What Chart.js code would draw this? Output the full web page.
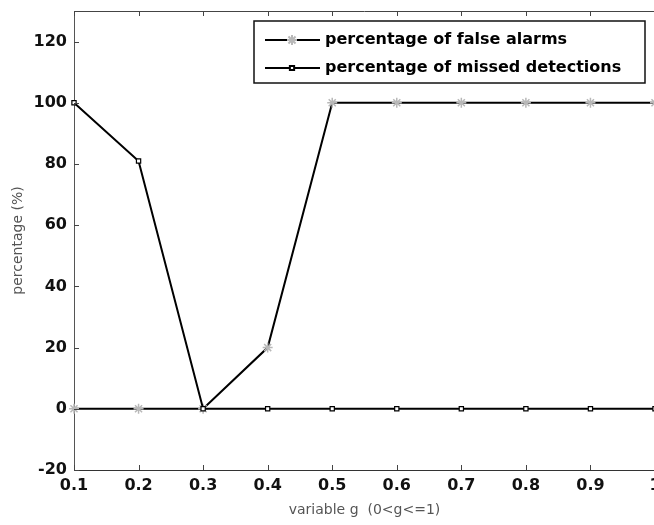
<!DOCTYPE html>
<html>
<head>
<meta charset="utf-8">
<script src="https://cdn.jsdelivr.net/npm/chart.js@4/dist/chart.umd.min.js"></script>
<style>
  html, body { margin: 0; padding: 0; background: #fff; overflow: hidden; }
  #wrap { width: 654px; height: 525px; overflow: hidden; }
</style>
</head>
<body>
<div id="wrap"><canvas id="c" width="700" height="525"></canvas></div>
<script>
// values
const gValues = [0.1, 0.2, 0.3, 0.4, 0.5, 0.6, 0.7, 0.8, 0.9, 1.0];
const falseAlarms = [0, 0, 0, 20, 100, 100, 100, 100, 100, 100];
const missedDetections = [100, 81, 0, 0, 0, 0, 0, 0, 0, 0];
const xTickLabels = ['0.1', '0.2', '0.3', '0.4', '0.5', '0.6', '0.7', '0.8', '0.9', '1'];
const yTicks = [-20, 0, 20, 40, 60, 80, 100, 120];
const seriesNames = ['percentage of false alarms', 'percentage of missed detections'];

const tickFont = { family: 'DejaVu Sans', size: 16, weight: 'bold' };
const titleFont = { family: 'DejaVu Sans', size: 14 };

// inward ticks, top border and the boxed legend, matlab style
const frame = {
  id: 'frame',
  afterDraw(chart) {
    const ctx = chart.ctx;
    const a = chart.chartArea;
    const xs = chart.scales.x, ys = chart.scales.y;
    ctx.save();
    ctx.strokeStyle = '#444';
    ctx.lineWidth = 1;
    ctx.beginPath();
    ctx.moveTo(a.left, a.top + 0.5);
    ctx.lineTo(a.right, a.top + 0.5);
    gValues.forEach(v => {
      const px = Math.round(xs.getPixelForValue(v)) + 0.5;
      ctx.moveTo(px, a.bottom); ctx.lineTo(px, a.bottom - 5);
      ctx.moveTo(px, a.top); ctx.lineTo(px, a.top + 5);
    });
    yTicks.forEach(v => {
      const py = Math.round(ys.getPixelForValue(v)) + 0.5;
      ctx.moveTo(a.left, py); ctx.lineTo(a.left + 5, py);
    });
    ctx.stroke();

    // legend
    const lw = 391, lh = 62;
    const lx = a.right - 10 - lw, ly = a.top + 10;
    ctx.fillStyle = '#fff';
    ctx.fillRect(lx, ly, lw, lh);
    ctx.strokeStyle = '#111';
    ctx.lineWidth = 1.5;
    ctx.strokeRect(lx, ly, lw, lh);
    const rows = [ly + 19, ly + 47];
    const ds = chart.data.datasets;
    rows.forEach((ry, i) => {
      ctx.strokeStyle = '#000';
      ctx.lineWidth = 2;
      ctx.beginPath();
      ctx.moveTo(lx + 11, ry); ctx.lineTo(lx + 66, ry);
      ctx.stroke();
      Chart.helpers.drawPoint(ctx, {
        pointStyle: ds[i].pointStyle,
        radius: ds[i].pointRadius,
        rotation: 0,
        borderWidth: ds[i].pointBorderWidth
      }, lx + 38, ry);
      ctx.fillStyle = '#000';
      ctx.font = 'bold 16px "DejaVu Sans"';
      ctx.textBaseline = 'middle';
      ctx.textAlign = 'left';
      ctx.fillText(seriesNames[i], lx + 71, ry);
    });
    ctx.restore();
  }
};

// drawPoint uses the current stroke/fill, so set them per legend row
const origDraw = Chart.helpers.drawPoint;
Chart.helpers.drawPoint = function (ctx, opts, x, y) {
  if (opts.pointStyle === 'star') { ctx.strokeStyle = '#b8b8b8'; ctx.fillStyle = '#b8b8b8'; }
  else { ctx.strokeStyle = '#000'; ctx.fillStyle = '#fff'; }
  origDraw(ctx, opts, x, y);
};

new Chart(document.getElementById('c'), {
  type: 'line',
  data: {
    datasets: [
      {
        label: seriesNames[0],
        data: gValues.map((g, i) => ({ x: g, y: falseAlarms[i] })),
        borderColor: '#000',
        borderWidth: 2,
        pointStyle: 'star',
        pointRadius: 5,
        pointBorderWidth: 1.5,
        pointBorderColor: '#b8b8b8',
        pointBackgroundColor: '#b8b8b8',
        tension: 0,
        clip: false,
        order: 2
      },
      {
        label: seriesNames[1],
        data: gValues.map((g, i) => ({ x: g, y: missedDetections[i] })),
        borderColor: '#000',
        borderWidth: 2,
        pointStyle: 'rect',
        pointRadius: 3,
        pointBorderWidth: 1.2,
        pointBorderColor: '#000',
        pointBackgroundColor: '#fff',
        tension: 0,
        clip: false,
        order: 1
      }
    ]
  },
  options: {
    responsive: false,
    animation: false,
    layout: { padding: { top: 11, right: 45, left: 0, bottom: 0 } },
    plugins: { legend: { display: false }, tooltip: { enabled: false } },
    scales: {
      x: {
        type: 'linear',
        min: 0.1,
        max: 1.0,
        afterBuildTicks: s => { s.ticks = gValues.map(v => ({ value: v })); },
        afterFit: s => { s.height = 55; },
        grid: { drawOnChartArea: false, drawTicks: false },
        border: { display: true, color: '#333', width: 1 },
        ticks: {
          color: '#111',
          font: tickFont,
          padding: 6,
          maxRotation: 0,
          autoSkip: false,
          callback: (v, i) => xTickLabels[i]
        },
        title: {
          display: true,
          text: 'variable g  (0<g<=1)',
          color: '#555',
          font: titleFont,
          padding: { top: 0, bottom: 6 }
        }
      },
      y: {
        min: -20,
        max: 130,
        afterBuildTicks: s => { s.ticks = yTicks.map(v => ({ value: v })); },
        afterFit: s => { s.width = 74; s.paddingTop = 0; s.paddingBottom = 0; },
        grid: { drawOnChartArea: false, drawTicks: false },
        border: { display: true, color: '#555', width: 1 },
        ticks: { color: '#111', font: tickFont, padding: 7 },
        title: {
          display: true,
          text: 'percentage (%)',
          color: '#555',
          font: titleFont,
          padding: { top: 10, bottom: 0 }
        }
      }
    }
  },
  plugins: [frame]
});
</script>
</body>
</html>
